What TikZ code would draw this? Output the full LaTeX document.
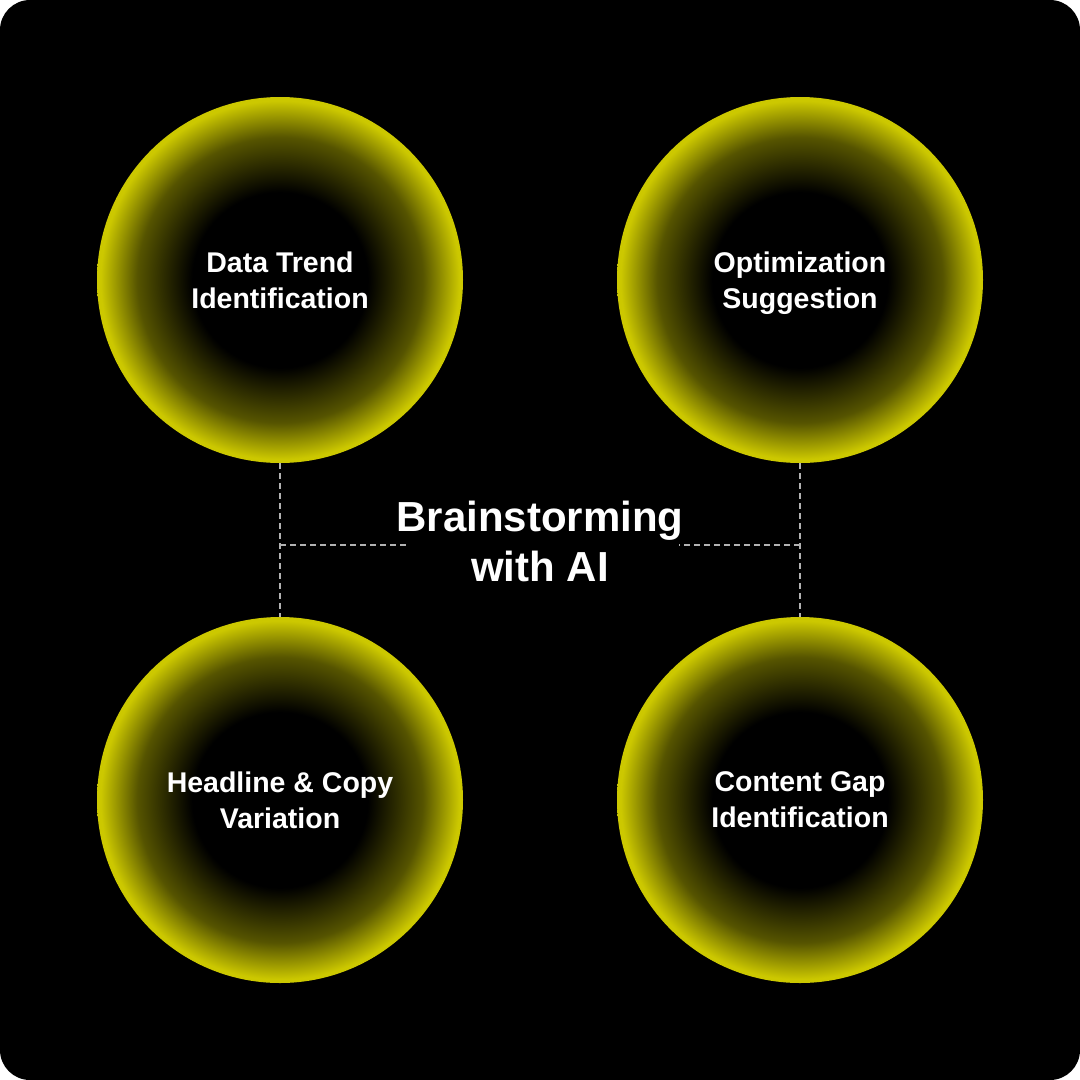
\documentclass[tikz,border=0pt]{standalone}
\usepackage{fontspec}
\setmainfont{Liberation Sans}
\definecolor{glowyellow}{RGB}{204,200,0}
\pgfdeclareradialshading{glow}{\pgfpoint{0bp}{0bp}}{color(0bp)=(black); color(12bp)=(black); color(19.5bp)=(glowyellow!42!black); color(24.5bp)=(glowyellow); color(50bp)=(glowyellow)}
\begin{document}
\begin{tikzpicture}[x=1pt,y=-1pt]
    \tikzstyle{topic}=[circle,shading=glow,minimum size=366pt,inner sep=0pt,align=center,text=white,text depth=0pt,font=\fontsize{28.5}{36}\selectfont\bfseries]
    \tikzstyle{link}=[draw=black!30,line width=1.2pt,dash pattern=on 6pt off 4pt]

    \fill[white] (0,0) rectangle (1080,1080);
    \fill[black,rounded corners=30pt] (0,0) rectangle (1080,1080);

    \node[topic] (T-1) at (280,280) {Data Trend\\Identification};
    \node[topic] (T-2) at (800,280) {Optimization\\Suggestion};
    \node[topic] (T-3) at (280,800) {Headline \& Copy\\Variation};
    \node[topic] (T-4) at (800,800) {Content Gap\\Identification};

    \node[align=center,text=white,inner sep=0pt,font=\fontsize{42}{50}\selectfont\bfseries] (B) at (540,541) {Brainstorming\\with AI};

    \coordinate (L) at (280,545);
    \coordinate (R) at (800,545);

    \path[link] (T-1.south) -- (T-3.north);
    \path[link] (T-2.south) -- (T-4.north);
    \path[link] (L) -- ([xshift=10pt]B.west |- L);
    \path[link] (R) -- ([xshift=-5pt]B.east |- R);
  \end{tikzpicture}
\end{document}
